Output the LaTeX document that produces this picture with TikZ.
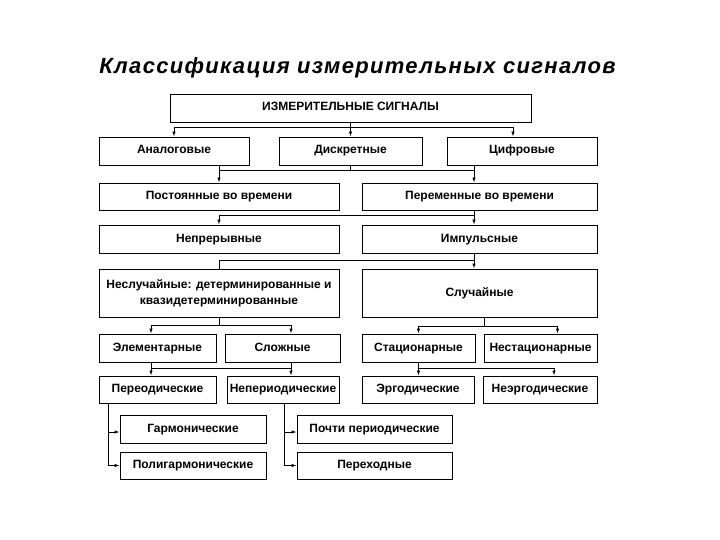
\documentclass[tikz,border=0pt]{standalone}
\usepackage{fontspec}
\setmainfont{Liberation Sans}
\newfontfamily\titlefont[LetterSpace=6]{Liberation Sans}
\usetikzlibrary{arrows.meta}
\begin{document}
\begin{tikzpicture}[x=1pt,y=-1pt,
  boxbase/.style={draw, line width=0.9pt, inner sep=0pt, align=center,
    font=\fontsize{12}{16}\selectfont\bfseries},
  box/.style={boxbase, text height=9pt, text depth=3pt},
  ln/.style={line width=0.9pt},
  arr/.style={ln, -{Latex[length=5pt,width=3.5pt]}}]
\fill[white] (0,0) rectangle (720,540);
\useasboundingbox (0,0) rectangle (720,540);

\node[font=\titlefont\fontsize{22}{26}\selectfont\bfseries\itshape, anchor=base, inner sep=0pt]
  (title) at (357.5,74) {Классификация измерительных сигналов};

\node[box, minimum width=361pt, minimum height=28pt] (top) at (350.5,108) {ИЗМЕРИТЕЛЬНЫЕ СИГНАЛЫ};
\node[box, minimum width=150pt, minimum height=28pt] (an) at (174,151) {Аналоговые};
\node[box, minimum width=143pt, minimum height=28pt] (di) at (350.5,151) {Дискретные};
\node[box, minimum width=150pt, minimum height=28pt] (ci) at (522,151) {Цифровые};
\node[box, minimum width=240pt, minimum height=27pt] (po) at (219,196.5) {Постоянные во времени};
\node[box, minimum width=235pt, minimum height=27pt] (pe) at (479.5,196.5) {Переменные во времени};
\node[box, minimum width=240pt, minimum height=28pt] (ne) at (219,239) {Непрерывные};
\node[box, minimum width=235pt, minimum height=28pt] (im) at (479.5,239) {Импульсные};
\node[boxbase, minimum width=240pt, minimum height=48pt] (nsl) at (219,293) {Неслучайные: детерминированные и\\квазидетерминированные};
\node[box, minimum width=235pt, minimum height=48pt] (sl) at (479.5,293) {Случайные};
\node[box, minimum width=117pt, minimum height=28pt] (el) at (157.5,348) {Элементарные};
\node[box, minimum width=115pt, minimum height=28pt] (sj) at (282.5,348) {Сложные};
\node[box, minimum width=113pt, minimum height=28pt] (st) at (418.5,348) {Стационарные};
\node[box, minimum width=113pt, minimum height=28pt] (nst) at (540.5,348) {Нестационарные};
\node[box, minimum width=117pt, minimum height=27pt] (pr) at (157.5,389.5) {Переодические};
\node[box, minimum width=112pt, minimum height=27pt] (np) at (283,389.5) {Непериодические};
\node[box, minimum width=112pt, minimum height=27pt] (er) at (418,389.5) {Эргодические};
\node[box, minimum width=114pt, minimum height=27pt] (ner) at (540,389.5) {Неэргодические};
\node[box, minimum width=146pt, minimum height=28pt] (ga) at (193,429) {Гармонические};
\node[box, minimum width=146pt, minimum height=27pt] (pg) at (193,465.5) {Полигармонические};
\node[box, minimum width=155pt, minimum height=28pt] (pp) at (374.5,429) {Почти периодические};
\node[box, minimum width=155pt, minimum height=27pt] (pk) at (374.5,465.5) {Переходные};

% level 1
\coordinate (b1) at (0,127);
\draw[ln] (top.south) -- (top.south |- b1);
\draw[arr] (top.south |- b1) -| (an.north);
\draw[arr] (top.south |- b1) -| ([xshift=-9pt]ci.north);
\draw[arr] (top.south) -- (di.north);

% level 2
\coordinate (L2) at (219,170);
\coordinate (R2) at (474,170);
\draw[ln] (an.south -| L2) -- (L2) -- (R2) -- (ci.south -| R2);
\draw[ln] (di.south) -- (di.south |- L2);
\draw[arr] (L2) -- (po.north -| L2);
\draw[arr] (R2) -- (pe.north -| R2);

% level 3
\coordinate (L3) at (219,215);
\coordinate (R3) at (474,215);
\draw[ln] (pe.south -| R3) -- (R3);
\draw[arr] (R3) -- (L3) -- (ne.north -| L3);
\draw[arr] (R3) -- (im.north -| R3);

% level 4
\coordinate (L4) at (219,260);
\coordinate (R4) at (474,260);
\draw[ln] (im.south -| R4) -- (R4) -- (L4) -- (nsl.north -| L4);
\draw[arr] (R4) -- (sl.north -| R4);

% level 5
\coordinate (c5) at (219,325);
\draw[ln] (nsl.south -| c5) -- (c5);
\draw[arr] (c5) -| ([xshift=-6.5pt]el.north);
\draw[arr] (c5) -| ([xshift=8.5pt]sj.north);
\coordinate (d5) at (484,326);
\draw[ln] (sl.south -| d5) -- (d5);
\draw[arr] (d5) -| (st.north);
\draw[arr] (d5) -| ([xshift=17pt]nst.north);

% level 6
\coordinate (e1) at (151,368);
\coordinate (e2) at (291,368);
\draw[ln] (el.south -| e1) -- (e1) -- (e2) -- (sj.south -| e2);
\draw[arr] (e1) -- (pr.north -| e1);
\draw[arr] (e2) -- (np.north -| e2);
\coordinate (f1) at (418.5,368);
\coordinate (f2) at (554,368);
\draw[ln] (st.south -| f1) -- (f1);
\draw[arr] (f1) -- (er.north -| f1);
\draw[arr] (f1) -- (f2) -- (ner.north -| f2);

% level 7
\coordinate (g) at (108.5,0);
\coordinate (h) at (284.5,0);
\draw[arr] (pr.south -| g) |- (pg.west);
\draw[arr] (pr.south -| g) |- ([yshift=-3pt]ga.west);
\draw[arr] (np.south -| h) |- (pk.west);
\draw[arr] (np.south -| h) |- ([yshift=-3pt]pp.west);
\end{tikzpicture}
\end{document}
